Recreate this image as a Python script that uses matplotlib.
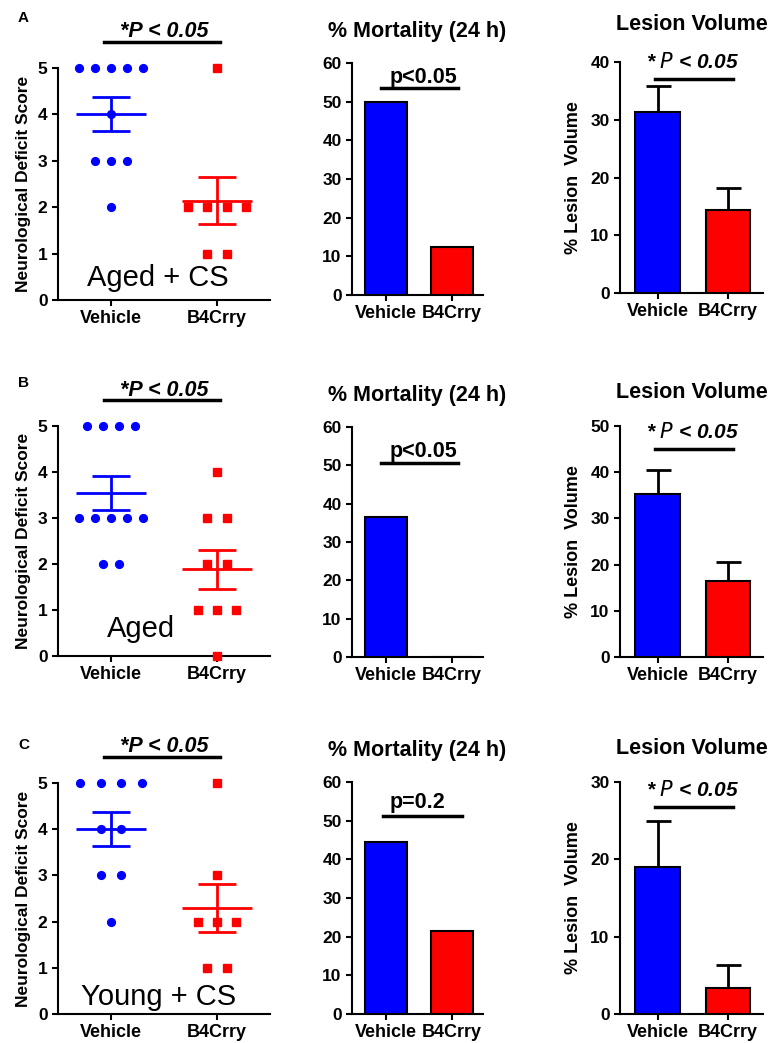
import matplotlib
matplotlib.use("Agg")
import matplotlib.pyplot as plt
import numpy as np

plt.rcParams['font.family'] = ['Liberation Sans', 'DejaVu Sans']

# --- data ---
groups = ['Vehicle', 'B4Crry']
row_letters = ['A', 'B', 'C']
row_names = ['Aged + CS', 'Aged', 'Young + CS']

# neurological deficit scores, one list per animal group
veh_scores = [
    [5, 5, 5, 5, 5, 4, 3, 3, 3, 2],
    [5, 5, 5, 5, 3, 3, 3, 3, 3, 2, 2],
    [5, 5, 5, 5, 4, 4, 3, 3, 2],
]
b4_scores = [
    [5, 2, 2, 2, 2, 1, 1],
    [4, 3, 3, 2, 2, 1, 1, 1, 0],
    [5, 3, 2, 2, 2, 1, 1],
]

# % mortality at 24 h
mortality = [
    [50.0, 12.5],
    [36.4, 0.0],
    [44.4, 21.4],
]
mort_pval = ['p<0.05', 'p<0.05', 'p=0.2']

# % lesion volume, mean and SEM
lesion_mean = [
    [31.3, 14.3],
    [35.3, 16.5],
    [19.0, 3.4],
]
lesion_sem = [
    [4.5, 3.8],
    [5.2, 4.1],
    [5.9, 2.9],
]
lesion_ymax = [40, 50, 30]

BLUE = '#0000ff'
RED = '#ff0000'
colors = [BLUE, RED]

W, H = 773, 1043
fig = plt.figure(figsize=(W / 100, H / 100), dpi=100)


def rect(left, top, right, bottom):
    return [left / W, 1 - bottom / H, (right - left) / W, (bottom - top) / H]


def style(ax):
    for s in ['top', 'right']:
        ax.spines[s].set_visible(False)
    for s in ['left', 'bottom']:
        ax.spines[s].set_linewidth(1.5)
    ax.tick_params(direction='out', length=4, width=1.5, labelsize=12.5)
    for lab in ax.get_xticklabels() + ax.get_yticklabels():
        lab.set_fontweight('bold')
    for lab in ax.get_xticklabels():
        lab.set_fontsize(13)


def jitter(vals, step):
    vals = np.array(vals, dtype=float)
    xs = np.zeros_like(vals)
    for v in np.unique(vals):
        idx = np.where(vals == v)[0]
        n = len(idx)
        xs[idx] = (np.arange(n) - (n - 1) / 2) * step
    return xs


tops = [68, 426, 783]
bottoms = [300, 656, 1014]
mtops = [63, 427, 782]
mbottoms = [295, 657, 1014]
ltops = [62, 426, 782]
lbottoms = [293, 657, 1014]
letter_y = [18, 383, 745]
circle_step = [0.15, 0.15, 0.195]
label_pos = [(0.44, 0.47), (0.28, 0.59), (0.45, 0.37)]
mort_line_y = [53.5, 50.6, 51.2]
mort_line_x = [(-0.08, 1.09), (-0.08, 1.09), (-0.05, 1.15)]
mort_text = [(0.56, 56.3), (0.56, 53.5), (0.48, 54.8)]
les_line_y = [37.1, 45.0, 26.8]
les_text_y = [40.0, 48.7, 29.0]

for r in range(3):
    # ---------- scatter: neurological deficit score ----------
    ax = fig.add_axes(rect(58, tops[r], 270, bottoms[r]))
    for g, (scores, col, mk, ms, step) in enumerate([
            (veh_scores[r], BLUE, 'o', 5.6, circle_step[r]),
            (b4_scores[r], RED, 's', 5.2, 0.18)]):
        xs = g + jitter(scores, step)
        ax.plot(xs, scores, ls='none', marker=mk, ms=ms, color=col,
                mec=col, clip_on=False, zorder=3)
        m = np.mean(scores)
        sem = np.std(scores, ddof=1) / np.sqrt(len(scores))
        ax.hlines(m, g - 0.33, g + 0.33, color=col, lw=2, zorder=4)
        ax.vlines(g, m - sem, m + sem, color=col, lw=2, zorder=4)
        ax.hlines([m - sem, m + sem], g - 0.18, g + 0.18, color=col, lw=2,
                  zorder=4)
    ax.set_xlim(-0.5, 1.5)
    ax.set_ylim(0, 5)
    ax.set_yticks(range(6))
    ax.set_xticks([0, 1])
    ax.set_xticklabels(groups)
    ax.set_ylabel('Neurological Deficit Score', fontsize=12.5,
                  fontweight='bold', labelpad=5)
    style(ax)
    ax.plot([-0.07, 1.03], [5.56, 5.56], color='black', lw=2.5,
            clip_on=False)
    ax.text(0.5, 5.78, '*P < 0.05', ha='center', va='center',
            fontsize=15.5, fontweight='bold', style='italic')
    ax.text(label_pos[r][0], label_pos[r][1], row_names[r], ha='center',
            va='center', fontsize=21)
    fig.text(18 / W, 1 - letter_y[r] / H, row_letters[r], fontsize=11,
             fontweight='bold', ha='left', va='center')

    # ---------- bar: % mortality ----------
    ax = fig.add_axes(rect(352, mtops[r], 483, mbottoms[r]))
    ax.bar([0, 1], mortality[r], width=0.64, color=colors,
           edgecolor='black', linewidth=1.5, zorder=3)
    ax.set_xlim(-0.52, 1.47)
    ax.set_ylim(0, 60)
    ax.set_yticks(range(0, 61, 10))
    ax.set_xticks([0, 1])
    ax.set_xticklabels(groups)
    style(ax)
    ax.set_title('% Mortality (24 h)', fontsize=15.5, fontweight='bold',
                 pad=19)
    ax.plot(mort_line_x[r], [mort_line_y[r]] * 2, color='black', lw=2.5)
    ax.text(mort_text[r][0], mort_text[r][1], mort_pval[r], ha='center',
            va='center', fontsize=15.5, fontweight='bold')

    # ---------- bar: % lesion volume ----------
    ax = fig.add_axes(rect(620, ltops[r], 763, lbottoms[r]))
    ax.bar([0, 1], lesion_mean[r], width=0.64, color=colors,
           edgecolor='black', linewidth=1.5, zorder=3)
    ax.errorbar([0, 1], lesion_mean[r], yerr=[[0, 0], lesion_sem[r]],
                fmt='none', ecolor='black', elinewidth=2, capsize=9,
                capthick=2, zorder=2)
    ax.set_xlim(-0.54, 1.5)
    ax.set_ylim(0, lesion_ymax[r])
    ax.set_yticks(range(0, lesion_ymax[r] + 1, 10))
    ax.set_xticks([0, 1])
    ax.set_xticklabels(groups)
    ax.set_ylabel('% Lesion  Volume', fontsize=13, fontweight='bold',
                  labelpad=6)
    style(ax)
    ax.set_title('Lesion Volume', fontsize=15.5, fontweight='bold',
                 pad=20 + (r == 0) * 3)
    ax.plot([-0.04, 1.07], [les_line_y[r]] * 2, color='black', lw=2.5,
            clip_on=False)
    ax.text(0.49, les_text_y[r], '* $\\bf{\\it{P}}$ < 0.05', ha='center',
            va='center', fontsize=15, fontweight='bold', style='italic',
            clip_on=False)

fig.savefig('out.png', dpi=100)
